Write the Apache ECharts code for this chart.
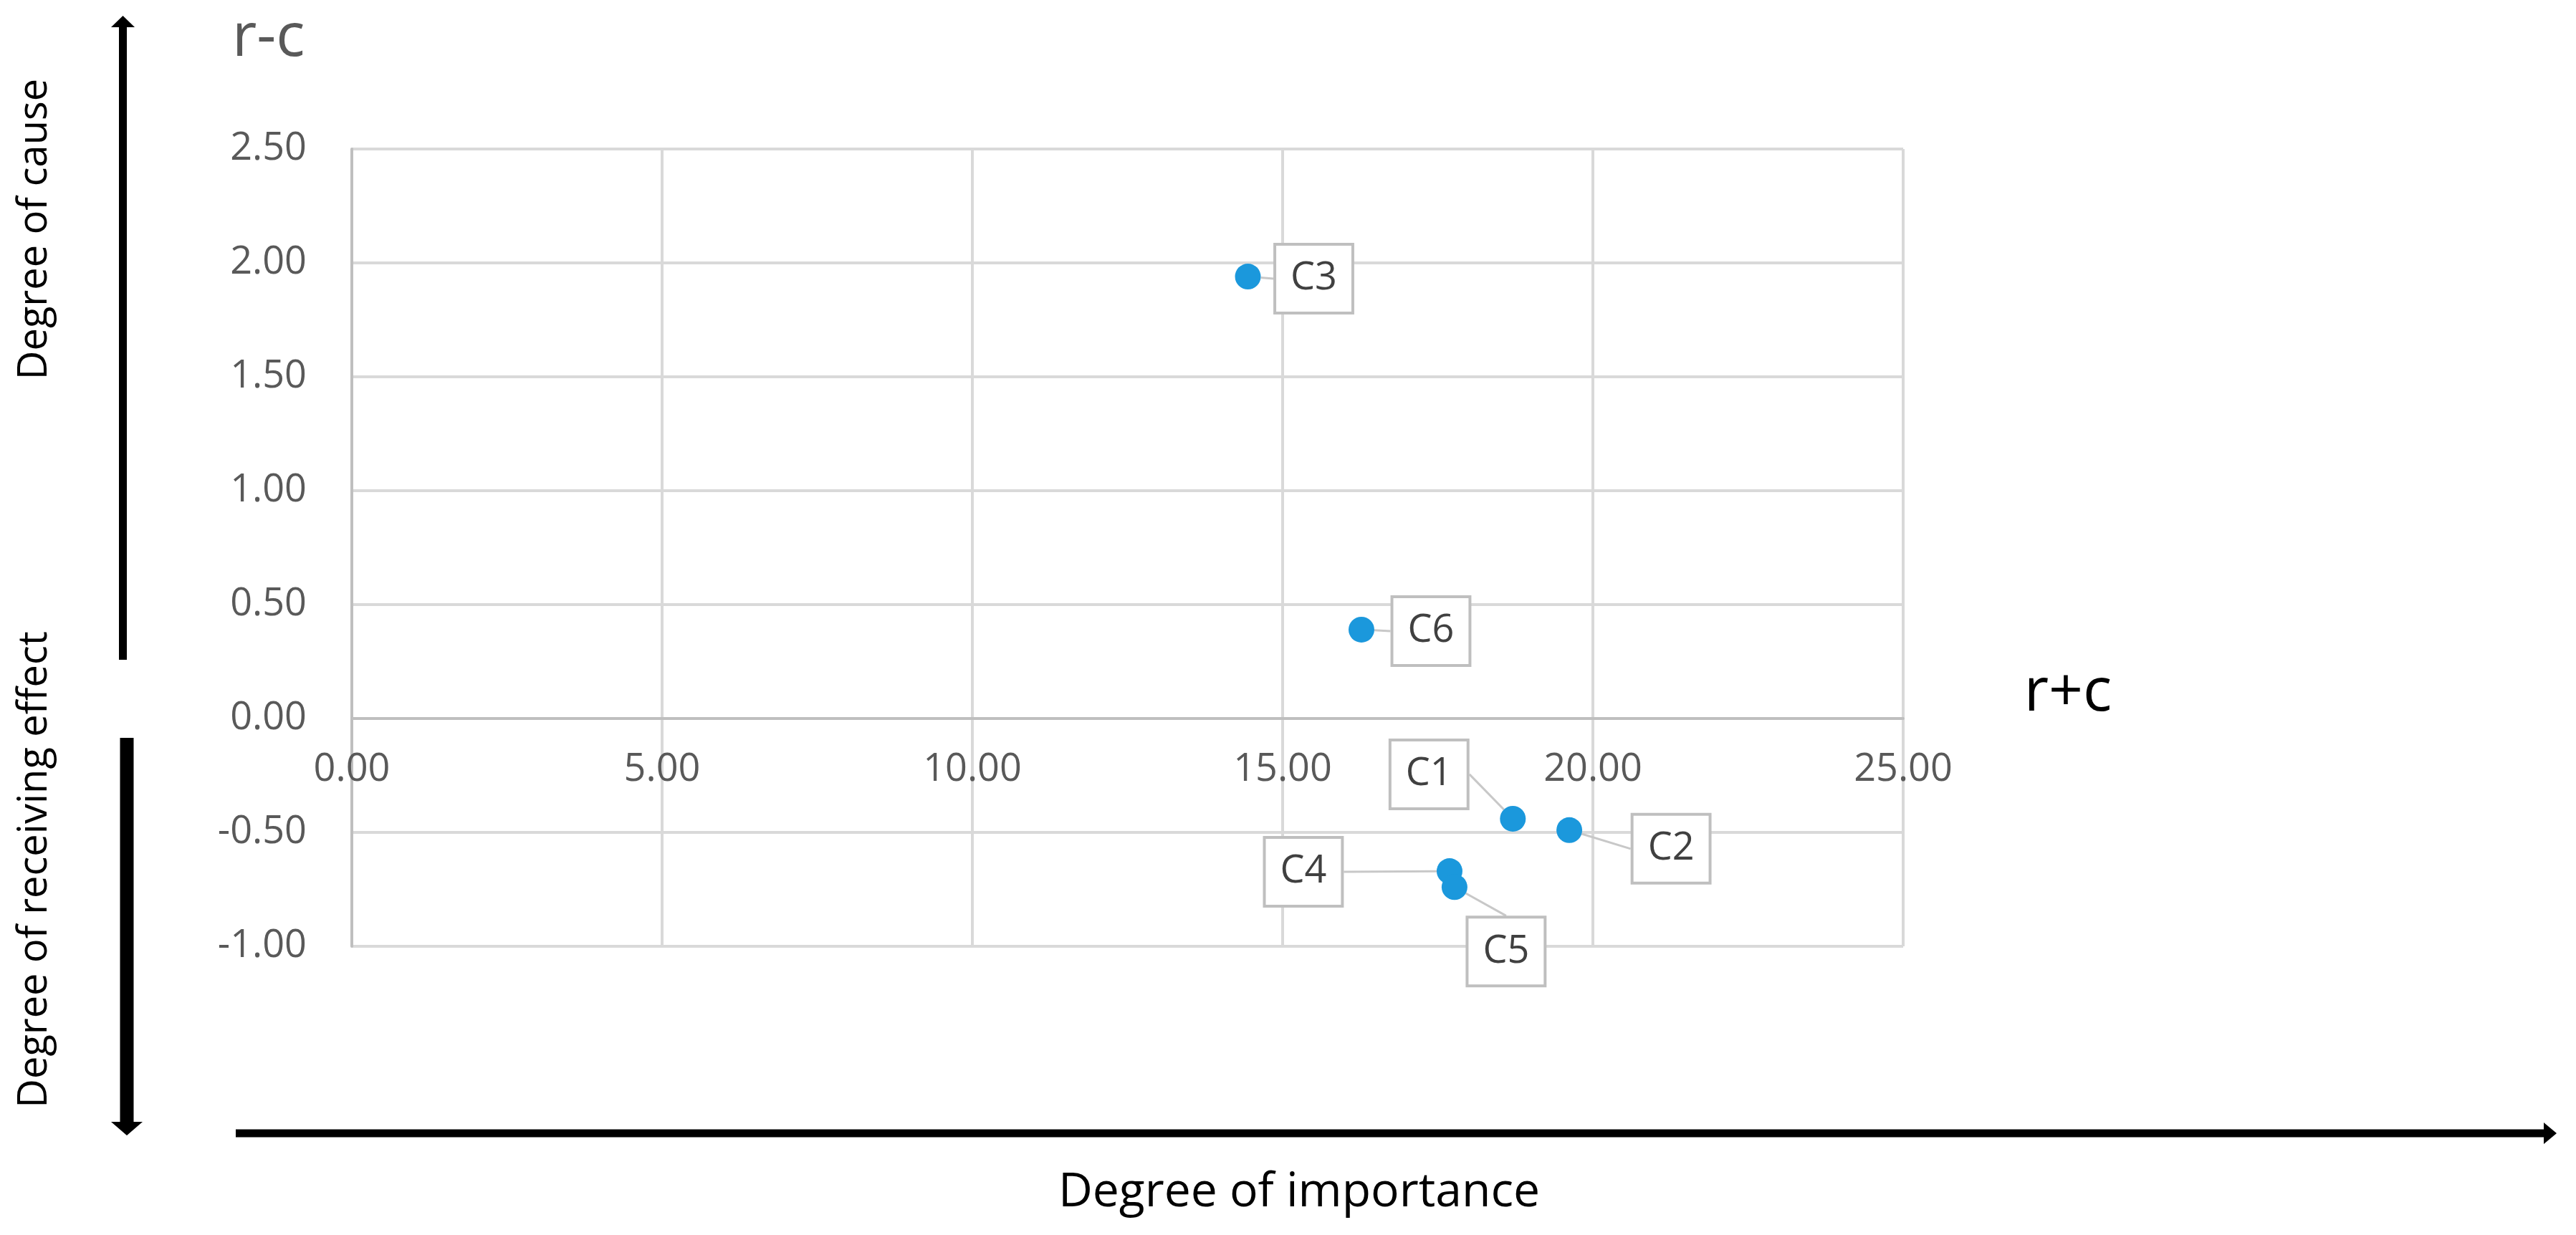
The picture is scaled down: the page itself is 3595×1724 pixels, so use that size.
<!DOCTYPE html>
<html>
<head>
<meta charset="utf-8">
<script src="https://cdn.jsdelivr.net/npm/echarts@6/dist/echarts.min.js"></script>
<style>
html,body{margin:0;padding:0;background:#fff;}
#chart{width:3595px;height:1724px;}
</style>
</head>
<body>
<div id="chart"></div>
<script>
// ---- data ----
const names = ['C1', 'C2', 'C3', 'C4', 'C5', 'C6'];
const rPlusC = [18.71, 19.62, 14.44, 17.69, 17.77, 16.27];
const rMinusC = [-0.44, -0.49, 1.94, -0.67, -0.74, 0.39];
const xRange = [0, 25, 5];
const yRange = [-1, 2.5, 0.5];
const xAxisTitle = 'r+c';
const yAxisTitle = 'r-c';
const causeText = 'Degree of cause';
const effectText = 'Degree of receiving effect';
const importanceText = 'Degree of importance';

// ---- label callout offsets (layout only) ----
const labelOffsets = [[-117, -62], [142, 26], [92, 3], [-204, 1], [72, 90], [97, 2]];

const FONT = '"Open Sans", "Noto Sans", sans-serif';
const GRID = {left: 491, top: 208, width: 2165, height: 1113};
// x axis crosses the y axis at r-c = 0
const xAxisOffset = -GRID.height * (0 - yRange[0]) / (yRange[1] - yRange[0]);

const chart = echarts.init(document.getElementById('chart'), null, {renderer: 'canvas'});
const points = rPlusC.map((x, i) => [x, rMinusC[i]]);

chart.setOption({
  backgroundColor: '#ffffff',
  animation: false,
  textStyle: {fontFamily: FONT},
  grid: Object.assign({containLabel: false, outerBoundsMode: 'none'}, GRID),
  xAxis: {
    type: 'value', min: xRange[0], max: xRange[1], interval: xRange[2],
    position: 'bottom',
    offset: xAxisOffset,
    axisLine: {show: true, onZero: false, lineStyle: {color: '#bfbfbf', width: 4}},
    axisTick: {show: false},
    axisLabel: {formatter: v => v.toFixed(2), fontSize: 54, color: '#595959', margin: 45, fontFamily: FONT},
    splitLine: {show: true, lineStyle: {color: '#d9d9d9', width: 4}}
  },
  yAxis: {
    type: 'value', min: yRange[0], max: yRange[1], interval: yRange[2],
    axisLine: {show: true, onZero: false, lineStyle: {color: '#bfbfbf', width: 4}},
    axisTick: {show: false},
    axisLabel: {formatter: v => v.toFixed(2), fontSize: 54, color: '#595959', margin: 63, fontFamily: FONT},
    splitLine: {show: true, lineStyle: {color: '#d9d9d9', width: 4}}
  },
  series: [{
    type: 'scatter',
    data: points,
    symbol: 'circle',
    symbolSize: 36,
    itemStyle: {color: '#1b98dc', opacity: 1},
    z: 5,
    label: {
      show: true,
      position: 'inside',
      formatter: p => names[p.dataIndex],
      fontSize: 54,
      fontFamily: FONT,
      color: '#404040',
      backgroundColor: '#ffffff',
      borderColor: '#bfbfbf',
      borderWidth: 4,
      padding: [20, 20, 18, 20]
    },
    labelLayout: p => ({dx: labelOffsets[p.dataIndex][0], dy: labelOffsets[p.dataIndex][1]}),
    labelLine: {show: true, lineStyle: {color: '#c8c8c8', width: 3}}
  }],
  graphic: [
    // upper vertical arrow (degree of cause)
    {type: 'line', shape: {x1: 171.5, y1: 34, x2: 171.5, y2: 921}, style: {stroke: '#000', lineWidth: 11}},
    {type: 'polygon', shape: {points: [[171.5, 22], [155, 38], [188, 38]]}, style: {fill: '#000'}},
    // lower vertical arrow (receiving effect)
    {type: 'line', shape: {x1: 177, y1: 1030, x2: 177, y2: 1568}, style: {stroke: '#000', lineWidth: 19}},
    {type: 'polygon', shape: {points: [[177, 1585], [155, 1566], [199, 1566]]}, style: {fill: '#000'}},
    // horizontal arrow (importance)
    {type: 'line', shape: {x1: 329, y1: 1582, x2: 3552, y2: 1582}, style: {stroke: '#000', lineWidth: 11}},
    {type: 'polygon', shape: {points: [[3568, 1582], [3550, 1567], [3550, 1597]]}, style: {fill: '#000'}},
    // texts
    {type: 'text', x: 324, y: 54, style: {text: yAxisTitle, font: '84px ' + FONT, fill: '#595959', textAlign: 'left', textVerticalAlign: 'middle'}},
    {type: 'text', x: 2886, y: 968, style: {text: xAxisTitle, font: '84px ' + FONT, fill: '#000', textAlign: 'center', textVerticalAlign: 'middle'}},
    {type: 'text', x: 1813, y: 1665, style: {text: importanceText, font: '66px ' + FONT, fill: '#000', textAlign: 'center', textVerticalAlign: 'middle'}},
    {type: 'text', x: 49, y: 320, rotation: Math.PI / 2, style: {text: causeText, font: '56px ' + FONT, fill: '#000', textAlign: 'center', textVerticalAlign: 'middle'}},
    {type: 'text', x: 49, y: 1214, rotation: Math.PI / 2, style: {text: effectText, font: '56px ' + FONT, fill: '#000', textAlign: 'center', textVerticalAlign: 'middle'}}
  ]
});
</script>
</body>
</html>
